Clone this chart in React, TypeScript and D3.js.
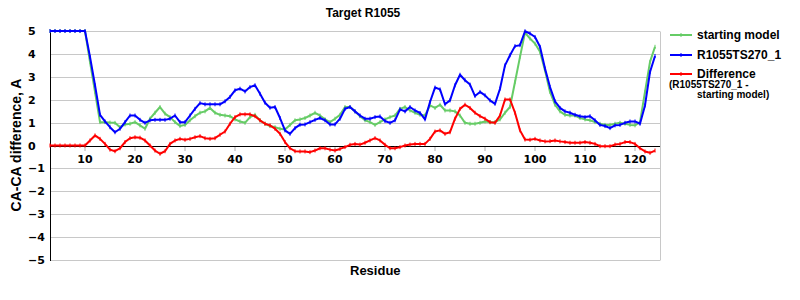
import React from "react";
import * as d3 from "d3";

const residues: number[] = d3.range(3, 125);

const startingModel: number[] = [
  5, 5, 5, 5, 5, 5, 5, 5,
  3.65, 2.34, 1.02, 1.02, 1.0, 0.99, 0.8, 0.92, 0.95, 1.02, 0.88, 0.73, 1.17, 1.43, 1.68, 1.39, 1.24, 1.02, 0.85, 0.9, 1.1, 1.28, 1.43, 1.49,
  1.64, 1.43, 1.34, 1.31, 1.28, 1.14, 1.05, 0.99, 1.24, 1.34, 1.1, 0.95, 0.85, 0.8, 0.73, 0.7, 0.9, 1.1, 1.14, 1.2, 1.31, 1.43, 1.31, 1.14, 1.02, 1.17, 1.34, 1.68, 1.68, 1.49,
  1.28, 1.1, 1.02, 0.9, 1.02, 1.14, 1.24, 1.31, 1.6, 1.68, 1.53, 1.43, 1.34, 1.31, 1.75, 1.64, 1.78, 1.53, 1.53, 1.49, 1.31, 0.99, 0.95, 0.95, 0.99, 1.05, 1.02, 1.02, 1.14, 1.43,
  1.68, 2.77, 3.87, 4.93, 4.67, 4.45, 4.09, 3.28, 2.34, 1.78, 1.49, 1.34, 1.31, 1.31, 1.2, 1.14, 1.1, 1.02, 0.95, 0.9, 0.9, 0.95, 0.99, 0.95, 0.9, 0.88, 1.02, 2.34, 3.65, 4.31,
];

const model: number[] = [
  5, 5, 5, 5, 5, 5, 5, 5,
  3.87, 2.63, 1.34, 1.05, 0.8, 0.58, 0.73, 1.02, 1.31, 1.31, 1.12, 0.99, 1.1, 1.12, 1.12, 1.12, 1.17, 1.31, 1.02, 1.02, 1.31, 1.6, 1.85, 1.8,
  1.8, 1.8, 1.8, 1.93, 2.12, 2.41, 2.48, 2.36, 2.55, 2.63, 2.26, 1.87, 1.65, 1.68, 1.2, 0.66, 0.51, 0.76, 0.91, 0.92, 1.02, 1.12, 1.2, 1.1, 0.92, 0.92, 1.17, 1.6, 1.68, 1.49,
  1.31, 1.17, 1.17, 1.24, 1.27, 1.07, 0.99, 1.1, 1.58, 1.49, 1.68, 1.53, 1.42, 1.14, 1.9, 2.53, 2.45, 1.8, 1.97, 2.63, 3.09, 2.85, 2.66, 2.16, 2.34, 2.19, 1.97, 1.82, 2.48, 3.5,
  3.94, 4.34, 4.38, 4.99, 4.89, 4.74, 4.31, 3.36, 2.55, 1.93, 1.64, 1.49, 1.43, 1.34, 1.28, 1.24, 1.28, 1.1, 0.9, 0.85, 0.76, 0.88, 0.9, 0.99, 1.05, 1.05, 0.95, 1.75, 3.21, 3.91,
];

const difference: number[] = [
  0, 0, 0, 0, 0, 0, 0, 0,
  0.22, 0.44, 0.29, 0.07, -0.18, -0.25, -0.12, 0.15, 0.32, 0.36, 0.34, 0.22, 0, -0.22, -0.36, -0.25, 0.07, 0.22, 0.29, 0.25, 0.29, 0.36, 0.41, 0.32,
  0.29, 0.32, 0.47, 0.61, 0.95, 1.24, 1.36, 1.36, 1.36, 1.28, 1.1, 0.95, 0.88, 0.73, 0.51, 0.15, -0.12, -0.25, -0.26, -0.26, -0.29, -0.22, -0.12, -0.12, -0.18, -0.22, -0.15, -0.07, 0.03, 0.07,
  0.04, 0.12, 0.22, 0.32, 0.22, 0.03, -0.12, -0.12, -0.07, 0, 0.04, 0.07, 0.07, 0.07, 0.29, 0.61, 0.66, 0.51, 0.58, 1.17, 1.6, 1.78, 1.64, 1.43, 1.28, 1.17, 1.02, 0.99, 1.31, 2.01,
  2.01, 1.43, 0.66, 0.26, 0.25, 0.29, 0.22, 0.18, 0.19, 0.22, 0.18, 0.15, 0.12, 0.12, 0.12, 0.15, 0.12, 0.07, -0.03, -0.03, -0.03, 0.04, 0.07, 0.15, 0.15, 0.07, -0.12, -0.26, -0.32, -0.22,
];

const xTicks: number[] = [10, 20, 30, 40, 50, 60, 70, 80, 90, 100, 110, 120];
const yTicks: number[] = [5, 4, 3, 2, 1, 0, -1, -2, -3, -4, -5];

const seriesNames = ["starting model", "R1055TS270_1", "Difference"];
const seriesColors = ["#66cc66", "#0000ff", "#ff0000"];
const legendNote = ["(R1055TS270_1 -", "starting model)"];

export default function App() {
  const left = 50, right = 660, top = 31, bottom = 260;
  const x = d3.scaleLinear().domain([3, 125]).range([left, right]);
  const y = d3.scaleLinear().domain([-5, 5]).range([bottom, top]);
  const line = d3
    .line<number>()
    .x((_, i) => x(residues[i]))
    .y((d) => y(d));
  const all = [startingModel, model, difference];
  const font = "'Liberation Sans', Arial, sans-serif";
  const tickFont = "'DejaVu Sans', Verdana, sans-serif";
  const legendLineY = [35, 55, 74];

  return (
    <svg
      width={800}
      height={300}
      style={{ position: "absolute", left: 0, top: 0, background: "#fff" }}
    >
      <rect x={0} y={0} width={800} height={300} fill="#fff" />
      {yTicks.map((t) => (
        <line
          key={"g" + t}
          x1={left}
          x2={right}
          y1={Math.round(y(t)) + 0.5}
          y2={Math.round(y(t)) + 0.5}
          stroke={t === 0 ? "#000" : "#c8c8c8"}
          strokeWidth={1}
        />
      ))}
      <line x1={right + 0.5} x2={right + 0.5} y1={Math.round(y(5)) + 0.5} y2={Math.round(y(-5)) + 0.5} stroke="#c8c8c8" />
      {xTicks.map((t) => (
        <line
          key={"xt" + t}
          x1={x(t)}
          x2={x(t)}
          y1={Math.round(y(0)) + 1}
          y2={Math.round(y(0)) + 5}
          stroke="#b0b0b0"
        />
      ))}
      <line x1={left + 0.5} x2={left + 0.5} y1={Math.round(y(5))} y2={Math.round(y(-5)) + 1} stroke="#000" />
      {all.map((s, k) => (
        <g key={"s" + k}>
          <path d={line(s) || ""} fill="none" stroke={seriesColors[k]} strokeWidth={2} strokeLinejoin="round" />
          {s.map((v, i) => (
            <rect
              key={i}
              x={x(residues[i]) - 0.5}
              y={y(v) - 2}
              width={1}
              height={4}
              fill={seriesColors[k]}
            />
          ))}
        </g>
      ))}
      {xTicks.map((t) => (
        <text
          key={"xl" + t}
          x={x(t)}
          y={163}
          textAnchor="middle"
          fontFamily={tickFont}
          fontWeight="bold"
          fontSize={11}
          fill="#000"
        >
          {t}
        </text>
      ))}
      {yTicks.map((t) => (
        <text
          key={"yl" + t}
          x={28}
          y={y(t) + 4}
          textAnchor="start"
          fontFamily={tickFont}
          fontWeight="bold"
          fontSize={11}
          fill="#000"
        >
          {t < 0 ? "\u2212" + Math.abs(t) : String(t)}
        </text>
      ))}
      <text x={363} y={17} textAnchor="middle" fontFamily={font} fontWeight="bold" fontSize={12} fill="#000">
        Target R1055
      </text>
      <text x={350} y={275} fontFamily={font} fontWeight="bold" fontSize={13} fill="#000">
        Residue
      </text>
      <text
        transform="translate(21,145) rotate(-90)"
        textAnchor="middle"
        fontFamily={font}
        fontWeight="bold"
        fontSize={14}
        fill="#000"
      >
        CA-CA difference, A
      </text>
      {seriesNames.map((n, k) => {
        const ly = legendLineY[k];
        return (
          <g key={"lg" + k}>
            <line x1={670} x2={692} y1={ly} y2={ly} stroke={seriesColors[k]} strokeWidth={2} />
            <rect x={680.5} y={ly - 2} width={1} height={4} fill={seriesColors[k]} />
            <text x={697} y={ly + 3.5} fontFamily={font} fontWeight="bold" fontSize={12} fill="#000">
              {n}
            </text>
          </g>
        );
      })}
      <text x={669} y={88} fontFamily={font} fontWeight="bold" fontSize={10} fill="#000">
        {legendNote[0]}
      </text>
      <text x={697} y={98} fontFamily={font} fontWeight="bold" fontSize={10} fill="#000">
        {legendNote[1]}
      </text>
    </svg>
  );
}
